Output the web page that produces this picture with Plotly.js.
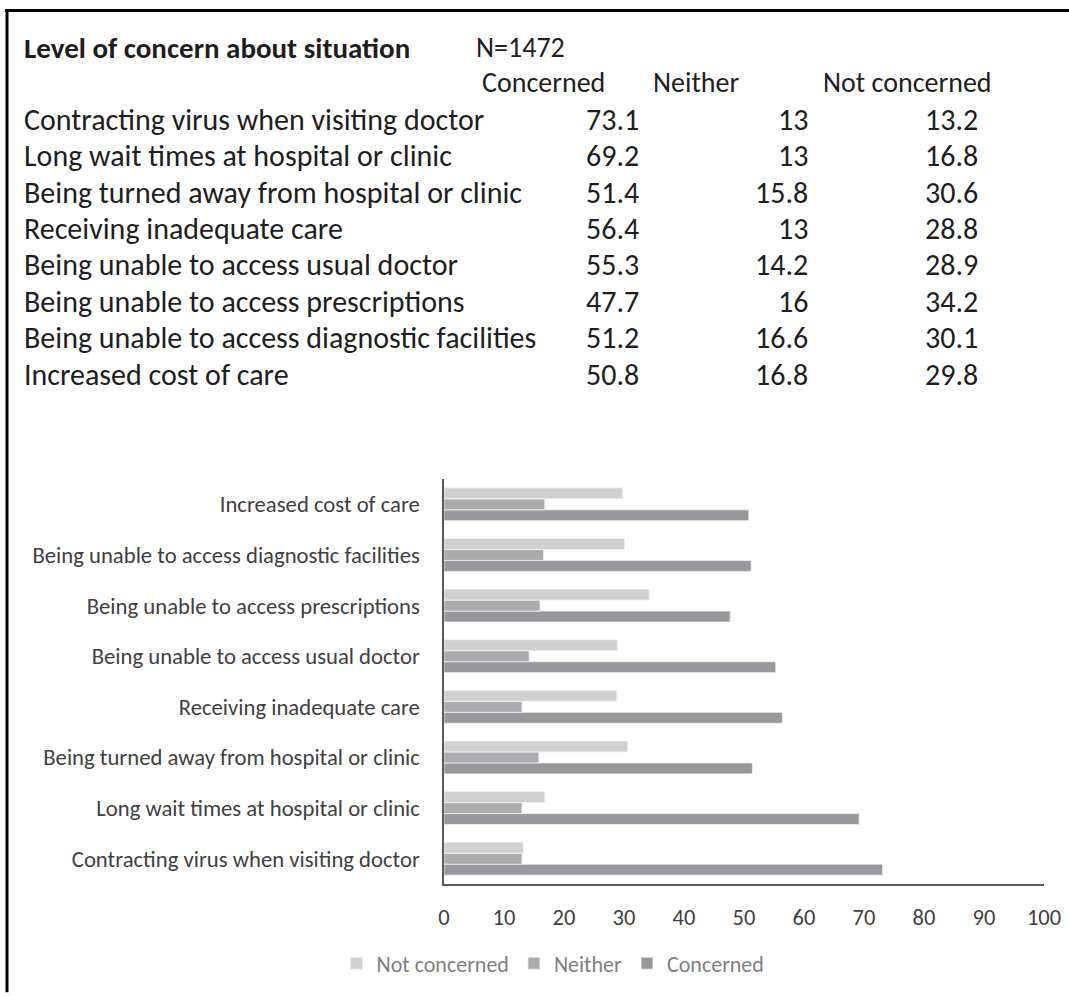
<!DOCTYPE html>
<html>
<head>
<meta charset="utf-8">
<script src="https://cdn.plot.ly/plotly-3.0.1.min.js"></script>
<style>html,body{margin:0;padding:0;background:#fff;}#chart{width:1069px;height:996px;}</style>
</head>
<body>
<div id="chart"></div>
<script>
// ---- data ----
var categories = [
  "Contracting virus when visiting doctor",
  "Long wait times at hospital or clinic",
  "Being turned away from hospital or clinic",
  "Receiving inadequate care",
  "Being unable to access usual doctor",
  "Being unable to access prescriptions",
  "Being unable to access diagnostic facilities",
  "Increased cost of care"
];
var concerned    = [73.1, 69.2, 51.4, 56.4, 55.3, 47.7, 51.2, 50.8];
var neither      = [13, 13, 15.8, 13, 14.2, 16, 16.6, 16.8];
var notConcerned = [13.2, 16.8, 30.6, 28.8, 28.9, 34.2, 30.1, 29.8];
var seriesNames  = ["Concerned", "Neither", "Not concerned"];
var tableTitle   = "Level of concern about situation";
var sampleSize   = "N=1472";
var xTicks       = [0, 10, 20, 30, 40, 50, 60, 70, 80, 90, 100];

// ---- layout geometry (pixels) ----
var W = 1069, H = 996;
var L = 444, R = 1044, T = 479, B = 887;
function px(x) { return (x - L) / (R - L); }
function py(y) { return (B - y) / (B - T); }

var FONT = "Carlito, Lato, 'Liberation Sans', sans-serif";
var tableSize = 30;
var headSize = 28;
var textCol = "#1e1e1e";

var ann = [];
ann.push({xref:'paper', yref:'paper', x:px(22), y:py(45), xanchor:'left', yanchor:'middle',
  text:'<b>' + tableTitle + '</b>', showarrow:false, font:{family:FONT, size:29, color:textCol}});
ann.push({xref:'paper', yref:'paper', x:px(474), y:py(44), xanchor:'left', yanchor:'middle',
  text:sampleSize, showarrow:false, font:{family:FONT, size:headSize, color:textCol}});
var headX = [480, 651, 821];
for (var h = 0; h < 3; h++) {
  ann.push({xref:'paper', yref:'paper', x:px(headX[h]), y:py(80), xanchor:'left', yanchor:'middle',
    text:seriesNames[h], showarrow:false, font:{family:FONT, size:headSize, color:textCol}});
}
var colRight = [641, 810, 980];
var cols = [concerned, neither, notConcerned];
for (var i = 0; i < categories.length; i++) {
  var yy = 116.5 + i * 36.7;
  ann.push({xref:'paper', yref:'paper', x:px(22), y:py(yy), xanchor:'left', yanchor:'middle',
    text:categories[i], showarrow:false, font:{family:FONT, size:tableSize, color:textCol}});
  for (var c = 0; c < 3; c++) {
    ann.push({xref:'paper', yref:'paper', x:px(colRight[c]), y:py(yy), xanchor:'right', yanchor:'middle',
      text:String(cols[c][i]), showarrow:false, font:{family:FONT, size:tableSize, color:textCol}});
  }
}

var colors = ["#98989c", "#ababae", "#d0d0d2"];
var traces = [];
for (var s = 0; s < 3; s++) {
  traces.push({
    type:'bar', orientation:'h', name:seriesNames[s],
    y:categories, x:cols[s],
    marker:{color:colors[s], line:{color:'#f2f2f2', width:0.8}},
    hoverinfo:'x+y'
  });
}

var layout = {
  width:W, height:H,
  margin:{l:L, r:W - R, t:T, b:H - B, pad:0},
  paper_bgcolor:'#fff', plot_bgcolor:'#fff',
  barmode:'group', bargap:0.35, bargroupgap:0,
  font:{family:FONT, color:'#404040'},
  showlegend:true,
  legend:{orientation:'h', traceorder:'reversed', x:px(553), xanchor:'center', y:py(967), yanchor:'middle',
    font:{family:FONT, size:22, color:'#7f7f7f'}, itemwidth:30},
  xaxis:{range:[0,100], tickvals:xTicks, ticktext:xTicks.map(String), showgrid:false, zeroline:false,
    showline:true, linecolor:'#5a5a5a', linewidth:1.6, ticks:'', ticklabelstandoff:12,
    tickfont:{family:FONT, size:22.5, color:'#404040'}, fixedrange:true},
  yaxis:{type:'category', showgrid:false, zeroline:false, showline:true, linecolor:'#5a5a5a', linewidth:1.6,
    ticks:'', ticklabelstandoff:18, tickfont:{family:FONT, size:22.7, color:'#404040'}, fixedrange:true},
  annotations:ann,
  shapes:[
    {type:'line', xref:'paper', yref:'paper', x0:px(5), x1:px(1069), y0:py(7), y1:py(7), line:{color:'#000', width:3}},
    {type:'line', xref:'paper', yref:'paper', x0:px(7), x1:px(7), y0:py(6), y1:py(996), line:{color:'#000', width:3}}
  ]
};

Plotly.newPlot('chart', traces, layout, {displayModeBar:false, staticPlot:true});
</script>
</body>
</html>
